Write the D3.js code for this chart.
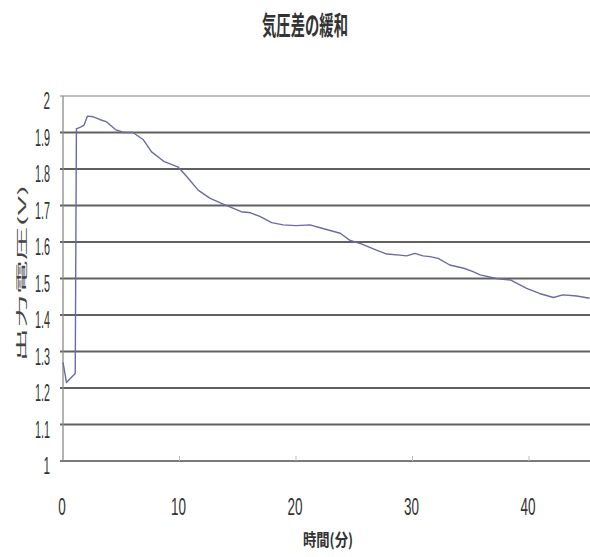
<!DOCTYPE html>
<html>
<head>
<meta charset="utf-8">
<script src="https://cdn.jsdelivr.net/npm/d3@7/dist/d3.min.js"></script>
<style>
  html, body { margin: 0; padding: 0; background: #fff; }
  svg { display: block; }
</style>
</head>
<body>
<svg id="chart" width="590" height="557"></svg>
<script>
// Output voltage over time as the pressure difference relaxes
const titleText = "気圧差の緩和";
const xLabelText = "時間(分)";
const yLabelText = "出力電圧(V)";

const minutes = [0, 0.3, 0.75, 1.05, 1.15, 1.5, 1.8, 2.1, 2.6, 3.2, 3.7, 4.5, 5.2, 6.0, 6.9, 7.6, 8.7, 9.9,
  10.6, 11.6, 12.6, 13.6, 15.3, 16.1, 16.9, 17.9, 18.9, 20.0, 21.2, 22.3, 23.8, 24.6, 25.5, 26.9, 27.8,
  28.9, 29.5, 30.2, 30.9, 31.5, 32.2, 33.2, 34.4, 35.2, 35.8, 37.2, 38.4, 39.8, 40.9, 42.1, 42.9, 44.1, 45.2];
const volts = [1.27, 1.215, 1.23, 1.24, 1.91, 1.915, 1.92, 1.945, 1.943, 1.935, 1.93, 1.908, 1.90, 1.90, 1.88,
  1.847, 1.82, 1.805, 1.78, 1.742, 1.72, 1.706, 1.683, 1.68, 1.67, 1.653, 1.647, 1.645, 1.647, 1.637, 1.624,
  1.605, 1.596, 1.578, 1.567, 1.564, 1.562, 1.569, 1.562, 1.56, 1.555, 1.537, 1.528, 1.519, 1.51, 1.50,
  1.496, 1.473, 1.459, 1.448, 1.455, 1.452, 1.446];

const xTicks = [0, 10, 20, 30, 40];
const xTickLabels = ["0", "10", "20", "30", "40"];
const yTicks = [1, 1.1, 1.2, 1.3, 1.4, 1.5, 1.6, 1.7, 1.8, 1.9, 2];
const yTickLabels = ["1", "1.1", "1.2", "1.3", "1.4", "1.5", "1.6", "1.7", "1.8", "1.9", "2"];

const svg = d3.select("#chart");
const W = 590, H = 557;

const x = d3.scaleLinear().domain([0, 50]).range([63, 645.5]);
const y = d3.scaleLinear().domain([1, 2]).range([461, 96]);

const numFont = "'Liberation Sans', Arial, sans-serif";
const cjkFont = "'Noto Sans CJK JP', 'Noto Sans CJK SC', sans-serif";

// horizontal gridlines
svg.append("g").selectAll("line")
  .data(yTicks.filter(v => v > 1))
  .join("line")
  .attr("x1", 60).attr("x2", W)
  .attr("y1", d => y(d)).attr("y2", d => y(d))
  .attr("stroke", d => d === 2 ? "#aaa" : "#606060")
  .attr("stroke-width", d => d === 2 ? 1.3 : 2);

// x axis line
svg.append("line")
  .attr("x1", 60).attr("x2", W)
  .attr("y1", y(1)).attr("y2", y(1))
  .attr("stroke", "#7a7a7a").attr("stroke-width", 2);

// y axis line
svg.append("line")
  .attr("x1", x(0)).attr("x2", x(0))
  .attr("y1", y(2)).attr("y2", y(1))
  .attr("stroke", "#8a8a8a").attr("stroke-width", 1.3);

// x tick marks
svg.append("g").selectAll("line")
  .data(xTicks.filter(v => v > 0))
  .join("line")
  .attr("x1", d => x(d)).attr("x2", d => x(d))
  .attr("y1", y(1)).attr("y2", y(1) - 5)
  .attr("stroke", "#bbb").attr("stroke-width", 1);

// y tick labels
svg.append("g").selectAll("text")
  .data(yTicks)
  .join("text")
  .attr("x", 50)
  .attr("y", d => y(d) + 13)
  .attr("text-anchor", "end")
  .attr("font-family", numFont)
  .attr("font-size", 23)
  .attr("fill", "#333")
  .attr("textLength", (d, i) => {
    const s = yTickLabels[i];
    return s.replace(".", "").length * 6.5 + (s.includes(".") ? 2 : 0);
  })
  .attr("lengthAdjust", "spacingAndGlyphs")
  .text((d, i) => yTickLabels[i]);

// x tick labels
svg.append("g").selectAll("text")
  .data(xTicks)
  .join("text")
  .attr("x", d => x(d) - 1)
  .attr("y", 515)
  .attr("text-anchor", "middle")
  .attr("font-family", numFont)
  .attr("font-size", 24)
  .attr("fill", "#333")
  .attr("textLength", (d, i) => xTickLabels[i].length * 7.5)
  .attr("lengthAdjust", "spacingAndGlyphs")
  .text((d, i) => xTickLabels[i]);

// data line
const line = d3.line()
  .x((d, i) => x(minutes[i]))
  .y(d => y(d));

svg.append("path")
  .datum(volts)
  .attr("d", line)
  .attr("fill", "none")
  .attr("stroke", "#6a6aa8")
  .attr("stroke-width", 1.4)
  .attr("stroke-linejoin", "round");

// title
svg.append("text")
  .attr("x", 305).attr("y", 35)
  .attr("text-anchor", "middle")
  .attr("font-family", cjkFont)
  .attr("font-size", 26)
  .attr("font-weight", "bold")
  .attr("fill", "#333")
  .attr("textLength", 86)
  .attr("lengthAdjust", "spacingAndGlyphs")
  .text(titleText);

// x axis title
svg.append("text")
  .attr("x", 328).attr("y", 546)
  .attr("text-anchor", "middle")
  .attr("font-family", cjkFont)
  .attr("font-size", 17)
  .attr("font-weight", "bold")
  .attr("fill", "#333")
  .attr("textLength", 50)
  .attr("lengthAdjust", "spacingAndGlyphs")
  .text(xLabelText);

// y axis title
svg.append("text")
  .attr("transform", "translate(26,273) rotate(-90)")
  .attr("text-anchor", "middle")
  .attr("font-family", cjkFont)
  .attr("font-size", 11)
  .attr("fill", "#444")
  .attr("textLength", 177)
  .attr("lengthAdjust", "spacingAndGlyphs")
  .text(yLabelText);
</script>
</body>
</html>
